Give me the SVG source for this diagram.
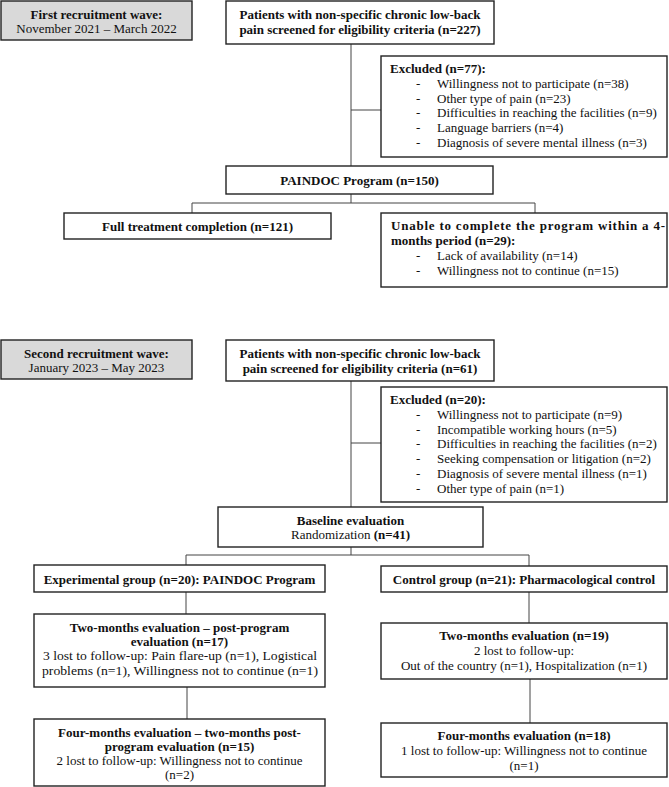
<svg xmlns="http://www.w3.org/2000/svg" width="669" height="787" viewBox="0 0 669 787">
<style>
  .box{fill:#fff;stroke:#222;stroke-width:1.4}
  .wave{fill:#d9d9d9;stroke:#222;stroke-width:1.4}
  .ln{fill:none;stroke:#444;stroke-width:1}
  text{font-family:"Liberation Serif","Times New Roman",serif;font-size:13px;fill:#111}
  .b{font-weight:bold}
  .c{text-anchor:middle}
</style>
<rect width="669" height="787" fill="#fff"/>
<g id="connectors">
  <path class="ln" d="M351,44V166M351,110H381"/>
  <path class="ln" d="M351,194V203M192,203H535M192,203V213M535,203V213"/>
  <path class="ln" d="M351,381V507M351,443H381"/>
  <path class="ln" d="M351,547V555M186,555H529M186,555V565M529,555V566"/>
  <path class="ln" d="M186,592V614M187,687V719"/>
  <path class="ln" d="M529,592V623M530,679V723"/>
</g>
<g id="wave1">
  <rect class="wave" x="1" y="1" width="191" height="39"/>
  <text class="b c" x="96.5" y="18.5">First recruitment wave:</text>
  <text class="c" x="96.5" y="33">November 2021 – March 2022</text>
</g>
<g id="screen1">
  <rect class="box" x="226" y="1" width="268" height="43"/>
  <text class="b c" x="360" y="19">Patients with non-specific chronic low-back</text>
  <text class="b c" x="360" y="34">pain screened for eligibility criteria (n=227)</text>
</g>
<g id="excluded1">
  <rect class="box" x="381" y="56" width="286" height="101"/>
  <text class="b" x="390" y="73">Excluded (n=77):</text>
  <text x="416" y="88">-</text><text x="437" y="88">Willingness not to participate (n=38)</text>
  <text x="416" y="102.6">-</text><text x="437" y="102.6">Other type of pain (n=23)</text>
  <text x="416" y="117.4">-</text><text x="437" y="117.4">Difficulties in reaching the facilities (n=9)</text>
  <text x="416" y="132.2">-</text><text x="437" y="132.2">Language barriers (n=4)</text>
  <text x="416" y="147">-</text><text x="437" y="147">Diagnosis of severe mental illness (n=3)</text>
</g>
<g id="paindoc">
  <rect class="box" x="226" y="166" width="267" height="28"/>
  <text class="b c" x="359.5" y="184.5">PAINDOC Program (n=150)</text>
</g>
<g id="completion">
  <rect class="box" x="64" y="213" width="267" height="26"/>
  <text class="b c" x="197.5" y="230.5">Full treatment completion (n=121)</text>
</g>
<g id="unable">
  <rect class="box" x="381" y="213" width="286" height="74"/>
  <text class="b" x="391" y="230" textLength="274" lengthAdjust="spacing">Unable to complete the program within a 4-</text>
  <text class="b" x="391" y="245">months period (n=29):</text>
  <text x="416" y="260">-</text><text x="437" y="260">Lack of availability (n=14)</text>
  <text x="416" y="275">-</text><text x="437" y="275">Willingness not to continue (n=15)</text>
</g>
<g id="wave2">
  <rect class="wave" x="1" y="340" width="191" height="39"/>
  <text class="b c" x="96.5" y="357.5">Second recruitment wave:</text>
  <text class="c" x="96.5" y="372">January 2023 – May 2023</text>
</g>
<g id="screen2">
  <rect class="box" x="226" y="340" width="268" height="41"/>
  <text class="b c" x="360" y="357.5">Patients with non-specific chronic low-back</text>
  <text class="b c" x="360" y="373">pain screened for eligibility criteria (n=61)</text>
</g>
<g id="excluded2">
  <rect class="box" x="381" y="387" width="286" height="115"/>
  <text class="b" x="390" y="404">Excluded (n=20):</text>
  <text x="416" y="418.8">-</text><text x="437" y="418.8">Willingness not to participate (n=9)</text>
  <text x="416" y="433.6">-</text><text x="437" y="433.6">Incompatible working hours (n=5)</text>
  <text x="416" y="448.4">-</text><text x="437" y="448.4">Difficulties in reaching the facilities (n=2)</text>
  <text x="416" y="463.2">-</text><text x="437" y="463.2">Seeking compensation or litigation (n=2)</text>
  <text x="416" y="478">-</text><text x="437" y="478">Diagnosis of severe mental illness (n=1)</text>
  <text x="416" y="492.8">-</text><text x="437" y="492.8">Other type of pain (n=1)</text>
</g>
<g id="baseline">
  <rect class="box" x="218" y="507" width="265" height="40"/>
  <text class="b c" x="350.5" y="525">Baseline evaluation</text>
  <text class="c" x="350.5" y="539">Randomization <tspan class="b">(n=41)</tspan></text>
</g>
<g id="experimental">
  <rect class="box" x="34" y="565" width="291" height="27"/>
  <text class="b c" x="179.5" y="583.5">Experimental group (n=20): PAINDOC Program</text>
</g>
<g id="control">
  <rect class="box" x="381" y="566" width="286" height="26"/>
  <text class="b c" x="524" y="584">Control group (n=21): Pharmacological control</text>
</g>
<g id="exp2m">
  <rect class="box" x="34" y="614" width="291" height="73"/>
  <text class="b c" x="179.5" y="631.7">Two-months evaluation – post-program</text>
  <text class="b c" x="179.5" y="646">evaluation (n=17)</text>
  <text class="c" x="180" y="660.2" textLength="274" lengthAdjust="spacingAndGlyphs">3 lost to follow-up: Pain flare-up (n=1), Logistical</text>
  <text class="c" x="180" y="674.5" textLength="276" lengthAdjust="spacingAndGlyphs">problems (n=1), Willingness not to continue (n=1)</text>
</g>
<g id="exp4m">
  <rect class="box" x="34" y="719" width="291" height="67"/>
  <text class="b c" x="179.5" y="736.5">Four-months evaluation – two-months post-</text>
  <text class="b c" x="179.5" y="750.7">program evaluation (n=15)</text>
  <text class="c" x="179.5" y="764.7">2 lost to follow-up: Willingness not to continue</text>
  <text class="c" x="179.5" y="779">(n=2)</text>
</g>
<g id="ctl2m">
  <rect class="box" x="381" y="623" width="286" height="56"/>
  <text class="b c" x="524" y="640">Two-months evaluation (n=19)</text>
  <text class="c" x="524" y="654.5">2 lost to follow-up:</text>
  <text class="c" x="524" y="669.5">Out of the country (n=1), Hospitalization (n=1)</text>
</g>
<g id="ctl4m">
  <rect class="box" x="381" y="723" width="286" height="54"/>
  <text class="b c" x="524" y="740">Four-months evaluation (n=18)</text>
  <text class="c" x="524" y="755">1 lost to follow-up: Willingness not to continue</text>
  <text class="c" x="524" y="770">(n=1)</text>
</g>
</svg>
